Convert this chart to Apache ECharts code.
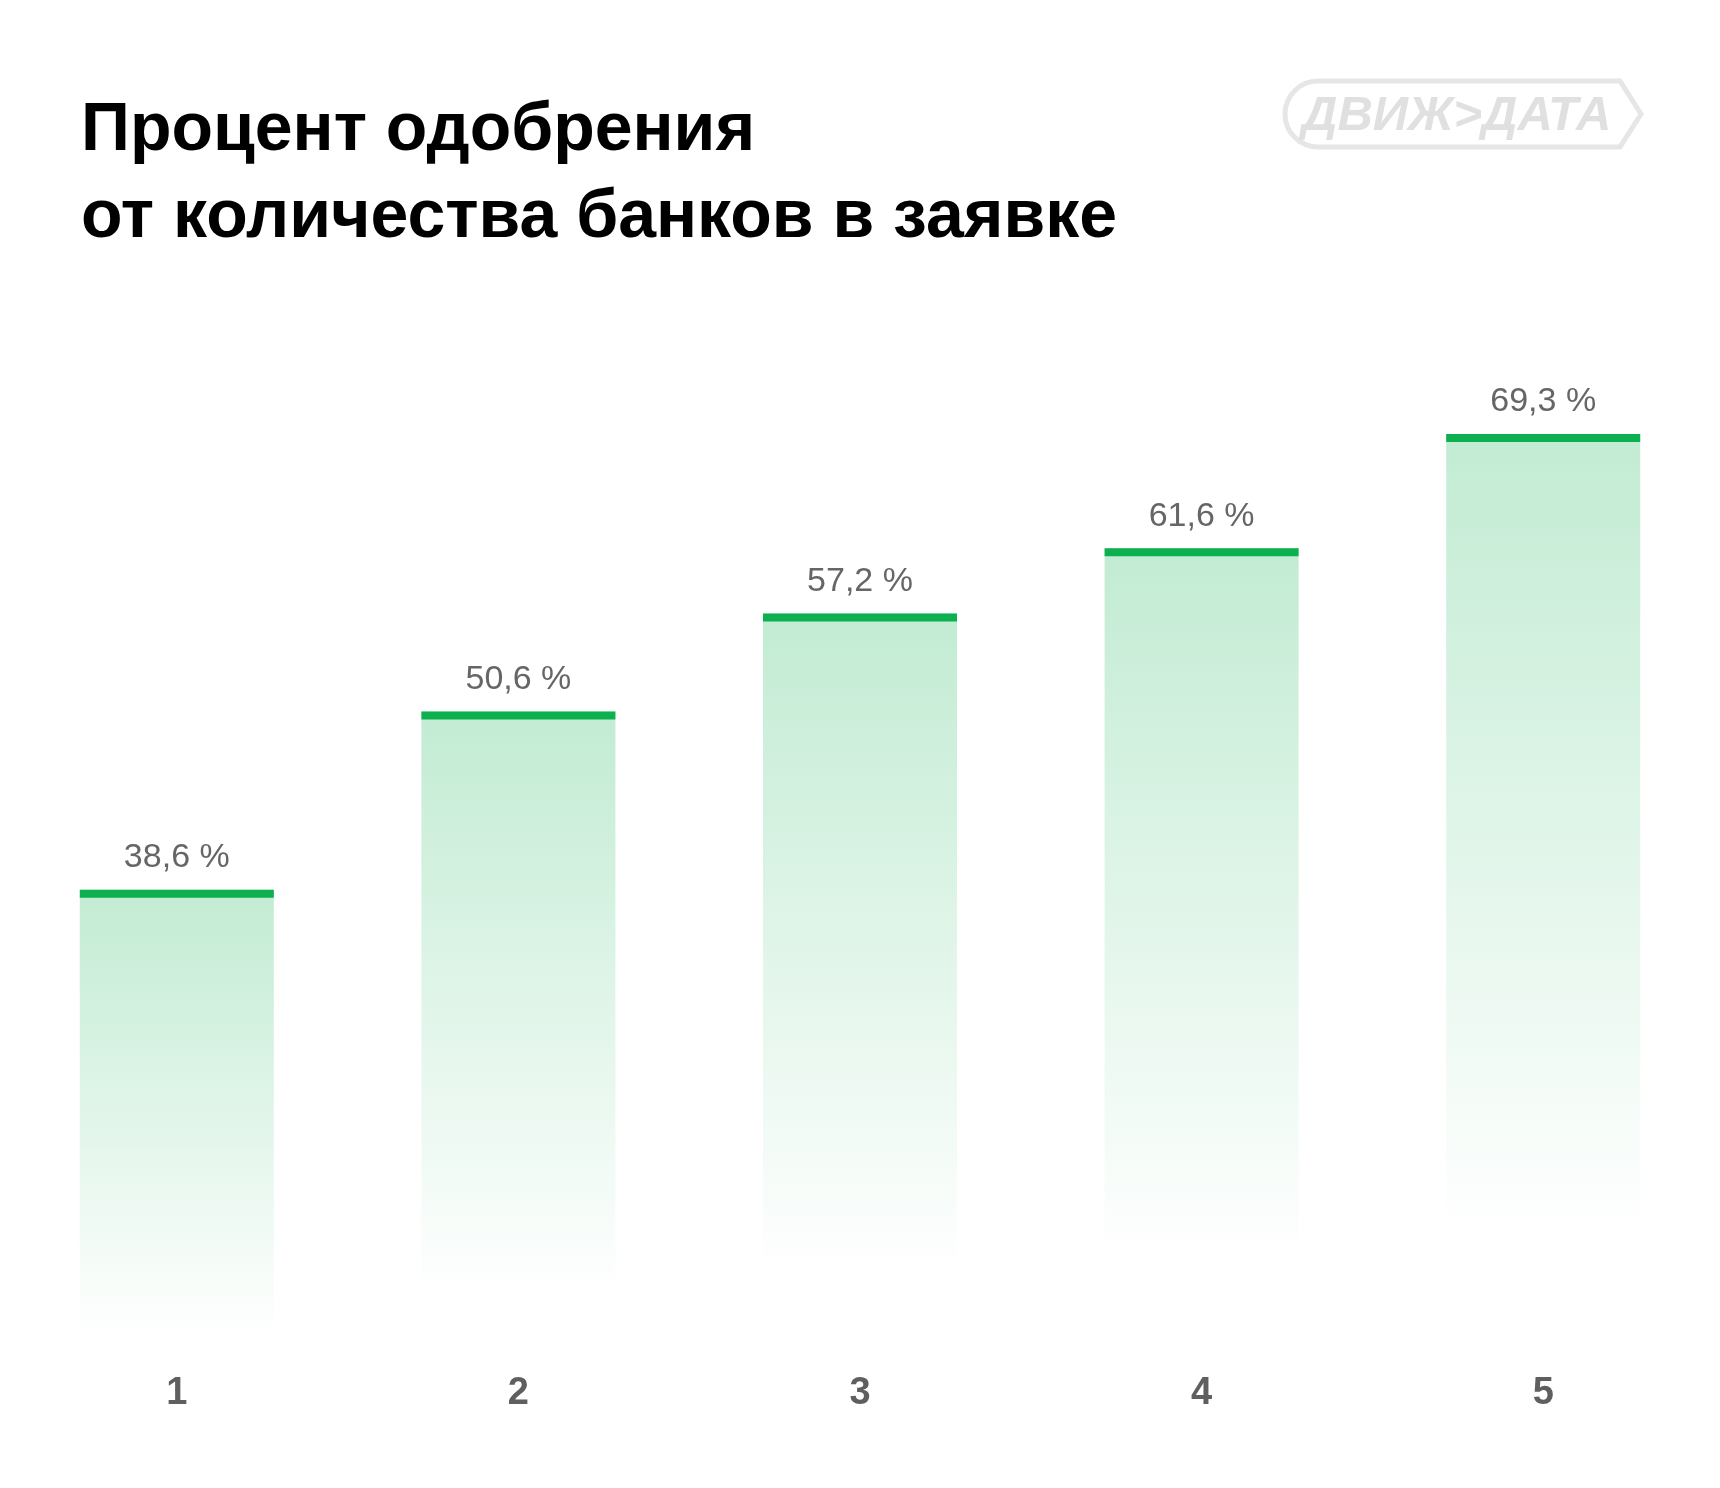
<!DOCTYPE html>
<html>
<head>
<meta charset="utf-8">
<script src="https://cdn.jsdelivr.net/npm/echarts@6/dist/echarts.min.js"></script>
<style>
  html, body { margin: 0; padding: 0; background: #fff; }
  #chart { width: 1720px; height: 1488px; }
</style>
</head>
<body>
<div id="chart"></div>
<script>
// данные
var banksCount = ['1', '2', '3', '4', '5'];
var approvalRate = [38.6, 50.6, 57.2, 61.6, 69.3];

var titleText = 'Процент одобрения\nот количества банков в заявке';
var logoText = 'ДВИЖ>ДАТА';

var myChart = echarts.init(document.getElementById('chart'));

// логотип в правом верхнем углу
var logoStroke = { fill: 'none', stroke: '#e6e6e6', lineWidth: 5 };

var option = {
  backgroundColor: '#ffffff',
  animation: false,
  title: {
    text: titleText,
    left: 76,
    top: 83,
    textStyle: {
      fontFamily: 'Liberation Sans',
      fontWeight: 'bold',
      fontSize: 68,
      lineHeight: 87,
      color: '#000000'
    }
  },
  graphic: [
    {
      type: 'polyline',
      shape: { points: [[1318, 81], [1620, 81], [1641, 114], [1620, 147], [1318, 147]] },
      style: logoStroke
    },
    {
      type: 'arc',
      shape: { cx: 1318, cy: 114, r: 33, startAngle: Math.PI / 2, endAngle: Math.PI * 1.5, clockwise: true },
      style: logoStroke
    },
    {
      type: 'text',
      x: 1302,
      y: 92,
      style: {
        text: logoText,
        font: 'italic bold 49px "Liberation Sans"',
        fill: '#e0e0e0'
      }
    }
  ],
  grid: {
    left: 6,
    right: 6,
    top: 275,
    bottom: 25
  },
  xAxis: {
    type: 'category',
    data: banksCount,
    axisLine: { show: false },
    axisTick: { show: false },
    axisLabel: {
      margin: -88,
      fontFamily: 'Liberation Sans',
      fontWeight: 'bold',
      fontSize: 38,
      color: '#5f5f5f'
    }
  },
  yAxis: {
    type: 'value',
    min: 0,
    max: 80,
    show: false,
    splitLine: { show: false }
  },
  series: [
    {
      type: 'bar',
      data: approvalRate,
      barWidth: 194,
      itemStyle: {
        color: {
          type: 'linear',
          x: 0, y: 0, x2: 0, y2: 1,
          colorStops: [
            { offset: 0, color: 'rgba(12,176,79,0.25)' },
            { offset: 0.78, color: 'rgba(12,176,79,0)' },
            { offset: 1, color: 'rgba(12,176,79,0)' }
          ]
        }
      },
      label: {
        show: true,
        position: 'top',
        distance: 15,
        fontFamily: 'Liberation Sans',
        fontSize: 34,
        color: '#666666',
        formatter: function (p) {
          return String(p.value).replace('.', ',') + ' %';
        }
      }
    },
    {
      type: 'pictorialBar',
      data: approvalRate,
      barWidth: 194,
      symbol: 'rect',
      symbolSize: [194, 8],
      symbolPosition: 'end',
      itemStyle: { color: '#0cb04f' },
      z: 5
    }
  ]
};

myChart.setOption(option);
</script>
</body>
</html>
